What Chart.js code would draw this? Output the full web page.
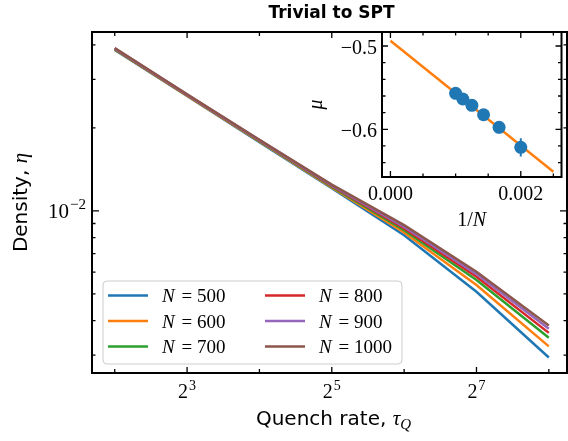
<!DOCTYPE html>
<html>
<head>
<meta charset="utf-8">
<script src="https://cdn.jsdelivr.net/npm/chart.js@4.4.0/dist/chart.umd.min.js"></script>
<style>
  body { margin: 0; background: #fff; }
  #wrap { position: relative; width: 568px; height: 441px; }
  #wrap canvas { position: absolute; left: 0; top: 0; }
</style>
</head>
<body>
<div id="wrap">
  <canvas id="main" width="568" height="441"></canvas>
  <canvas id="inset" width="568" height="441"></canvas>
</div>
<script>
// quench rates and the defect density for each chain length
const tauQ = [4, 8, 16, 32, 64, 128, 256]
const sizesN = [500, 600, 700, 800, 900, 1000]
const density500 = [0.03838, 0.02610, 0.01776, 0.01208, 0.008165, 0.005087, 0.002938]
const density600 = [0.03847, 0.02619, 0.01784, 0.01216, 0.008351, 0.005380, 0.003226]
const density700 = [0.03860, 0.02626, 0.01792, 0.01224, 0.008514, 0.005610, 0.003466]
const density800 = [0.03873, 0.02634, 0.01799, 0.01232, 0.008635, 0.005766, 0.003610]
const density900 = [0.03886, 0.02641, 0.01805, 0.01238, 0.008749, 0.005898, 0.003733]
const density1000 = [0.03899, 0.02648, 0.01811, 0.01245, 0.008876, 0.006012, 0.003837]
const densities = [density500, density600, density700, density800, density900, density1000]
const colors = ['#1f77b4', '#ff7f0e', '#2ca02c', '#d62728', '#9467bd', '#8c564b']

// tick positions (powers of 2 on x, log ticks on y)
const xTickPowers = [2, 3, 4, 5, 6, 7, 8]
const xLabelPowers = [3, 5, 7]
const yMajorTicks = [0.01]
const yMinorTicks = [0.003, 0.004, 0.005, 0.006, 0.007, 0.008, 0.009, 0.02, 0.03, 0.04]

// inset: exponent mu against 1/N with a straight fit
const invN = [0.001, 0.001111, 0.00125, 0.001429, 0.001667, 0.002]
const muValues = [-0.5568, -0.5636, -0.5712, -0.5825, -0.5976, -0.6216]
const muErrors = [0.004, 0.004, 0.005, 0.005, 0.007, 0.011]
const fitInvN = [0, 0.0025]
const fitMu = [-0.4936, -0.6509]
const insetXMajor = [0, 0.002]
const insetXMinor = [0.0005, 0.001, 0.0015, 0.0025]
const insetYMajor = [-0.5, -0.6]
const insetYMinor = [-0.52, -0.54, -0.56, -0.58, -0.62, -0.64]

const SERIF = '"Liberation Serif", "DejaVu Serif", serif'
const SANS = '"DejaVu Sans", sans-serif'

function drawPow (ctx, base, exp, x, y, size, align) {
  ctx.textAlign = 'left'
  ctx.textBaseline = 'alphabetic'
  ctx.font = size + 'px ' + SERIF
  var wb = ctx.measureText(base).width
  var small = Math.round(size * 0.7)
  ctx.font = small + 'px ' + SERIF
  var we = ctx.measureText(exp).width
  var x0 = align === 'right' ? x - wb - we - 1 : x - (wb + we + 1) / 2
  ctx.font = size + 'px ' + SERIF
  ctx.fillText(base, x0, y)
  ctx.font = small + 'px ' + SERIF
  ctx.fillText(exp, x0 + wb + 1, y - size * 0.42)
}

function frameAndTicks (ctx, a, xs, ys) {
  ctx.save()
  ctx.strokeStyle = '#000'
  ctx.lineWidth = 1.3
  ctx.beginPath()
  xs.forEach(function (t) {
    ctx.moveTo(t.px, a.bottom); ctx.lineTo(t.px, a.bottom - t.len)
    ctx.moveTo(t.px, a.top); ctx.lineTo(t.px, a.top + t.len)
  })
  ys.forEach(function (t) {
    ctx.moveTo(a.left, t.px); ctx.lineTo(a.left + t.len, t.px)
    ctx.moveTo(a.right, t.px); ctx.lineTo(a.right - t.len, t.px)
  })
  ctx.stroke()
  ctx.lineWidth = 2
  ctx.strokeRect(a.left, a.top, a.right - a.left, a.bottom - a.top)
  ctx.restore()
}

const mainDecor = {
  id: 'mainDecor',
  beforeDraw (chart) {
    var ctx = chart.ctx
    ctx.save()
    ctx.fillStyle = '#fff'
    ctx.fillRect(0, 0, chart.width, chart.height)
    ctx.restore()
  },
  afterDatasetsDraw (chart) {
    var ctx = chart.ctx
    var a = chart.chartArea
    var x = chart.scales.x
    var y = chart.scales.y

    // legend, two columns
    ctx.save()
    var bx = 103, by = 281, bw = 299, bh = 83
    ctx.beginPath()
    ctx.roundRect(bx, by, bw, bh, 4)
    ctx.fillStyle = 'rgba(255,255,255,0.8)'
    ctx.fill()
    ctx.strokeStyle = '#cccccc'
    ctx.lineWidth = 1
    ctx.stroke()
    sizesN.forEach(function (n, i) {
      var col = Math.floor(i / 3)
      var row = i % 3
      var hx = col === 0 ? 108 : 265
      var ry = 295.5 + row * 25.5
      ctx.strokeStyle = colors[i]
      ctx.lineWidth = 2.5
      ctx.beginPath()
      ctx.moveTo(hx, ry); ctx.lineTo(hx + 40, ry)
      ctx.stroke()
      ctx.fillStyle = '#000'
      ctx.textAlign = 'left'
      ctx.textBaseline = 'alphabetic'
      ctx.font = 'italic 19px ' + SERIF
      ctx.fillText('N', hx + 54, ry + 6.5)
      var wN = ctx.measureText('N').width
      ctx.font = '19px ' + SERIF
      ctx.fillText(' = ' + n, hx + 54 + wN + 2, ry + 6.5)
    })
    ctx.restore()

    var xs = xTickPowers.map(function (p) {
      return { px: x.getPixelForValue(Math.pow(2, p)), len: xLabelPowers.indexOf(p) >= 0 ? 6 : 4 }
    })
    var ys = yMajorTicks.map(function (v) { return { px: y.getPixelForValue(v), len: 7 } })
      .concat(yMinorTicks.map(function (v) { return { px: y.getPixelForValue(v), len: 3.5 } }))
    frameAndTicks(ctx, a, xs, ys)

    ctx.save()
    ctx.fillStyle = '#000'
    xLabelPowers.forEach(function (p) {
      drawPow(ctx, '2', String(p), x.getPixelForValue(Math.pow(2, p)), 398, 20, 'center')
    })
    drawPow(ctx, '10', '\u22122', a.left - 6, y.getPixelForValue(0.01) + 7, 21, 'right')

    // axis titles
    ctx.textBaseline = 'alphabetic'
    ctx.font = '20px ' + SANS
    var s1 = 'Quench rate, '
    var w1 = ctx.measureText(s1).width
    ctx.font = 'italic 21px ' + SERIF
    var wt = ctx.measureText('\u03c4').width
    ctx.font = 'italic 15px ' + SERIF
    var wq = ctx.measureText('Q').width
    var cx = (a.left + a.right) / 2 + 4
    var sx = cx - (w1 + wt + wq) / 2
    ctx.textAlign = 'left'
    ctx.font = '20px ' + SANS
    ctx.fillText(s1, sx, 425)
    ctx.font = 'italic 21px ' + SERIF
    ctx.fillText('\u03c4', sx + w1, 425)
    ctx.font = 'italic 15px ' + SERIF
    ctx.fillText('Q', sx + w1 + wt, 429)

    ctx.translate(27, (a.top + a.bottom) / 2)
    ctx.rotate(-Math.PI / 2)
    ctx.font = '20px ' + SANS
    var s2 = 'Density, '
    var w2 = ctx.measureText(s2).width
    ctx.font = 'italic 21px ' + SERIF
    var we = ctx.measureText('\u03b7').width
    ctx.font = '20px ' + SANS
    ctx.fillText(s2, -(w2 + we) / 2, 0)
    ctx.font = 'italic 21px ' + SERIF
    ctx.fillText('\u03b7', -(w2 + we) / 2 + w2, 0)
    ctx.restore()

    ctx.save()
    ctx.fillStyle = '#000'
    ctx.font = 'bold 17px ' + SANS
    ctx.textAlign = 'center'
    ctx.textBaseline = 'alphabetic'
    ctx.fillText('Trivial to SPT', (a.left + a.right) / 2 + 2, 18)
    ctx.restore()
  }
}

new Chart(document.getElementById('main'), {
  type: 'line',
  data: {
    datasets: densities.map(function (d, i) {
      return {
        label: 'N = ' + sizesN[i],
        data: tauQ.map(function (t, j) { return { x: t, y: d[j] } }),
        borderColor: colors[i],
        borderWidth: 2.5,
        pointRadius: 0,
        tension: 0,
        fill: false,
        order: densities.length - i
      }
    })
  },
  options: {
    responsive: false,
    animation: false,
    devicePixelRatio: 1,
    layout: { padding: { left: 92, top: 32, right: 1, bottom: 68 } },
    plugins: { legend: { display: false }, tooltip: { enabled: false } },
    scales: {
      x: { type: 'logarithmic', min: 3.217, max: 304.7, display: false },
      y: { type: 'logarithmic', min: 0.002582, max: 0.04454, display: false }
    }
  },
  plugins: [mainDecor]
})

const insetDecor = {
  id: 'insetDecor',
  beforeDatasetsDraw (chart) {
    var a = chart.chartArea
    var ctx = chart.ctx
    ctx.save()
    ctx.fillStyle = '#fff'
    ctx.fillRect(a.left, a.top, a.right - a.left, a.bottom - a.top)
    ctx.restore()
  },
  afterDatasetDraw (chart, args) {
    if (args.index !== 0) return
    // error bars sit above the fit line, below the markers
    var ctx = chart.ctx
    var x = chart.scales.x
    var y = chart.scales.y
    ctx.save()
    ctx.strokeStyle = colors[0]
    ctx.lineWidth = 2
    ctx.beginPath()
    invN.forEach(function (v, i) {
      var px = x.getPixelForValue(v)
      ctx.moveTo(px, y.getPixelForValue(muValues[i] - muErrors[i]))
      ctx.lineTo(px, y.getPixelForValue(muValues[i] + muErrors[i]))
    })
    ctx.stroke()
    ctx.restore()
  },
  afterDatasetsDraw (chart) {
    var ctx = chart.ctx
    var a = chart.chartArea
    var x = chart.scales.x
    var y = chart.scales.y
    var xs = insetXMajor.map(function (v) { return { px: x.getPixelForValue(v), len: 6 } })
      .concat(insetXMinor.map(function (v) { return { px: x.getPixelForValue(v), len: 3.5 } }))
    var ys = insetYMajor.map(function (v) { return { px: y.getPixelForValue(v), len: 6 } })
      .concat(insetYMinor.map(function (v) { return { px: y.getPixelForValue(v), len: 3.5 } }))
    frameAndTicks(ctx, a, xs, ys)

    ctx.save()
    ctx.fillStyle = '#000'
    ctx.font = '20px ' + SERIF
    ctx.textBaseline = 'alphabetic'
    ctx.textAlign = 'right'
    insetYMajor.forEach(function (v) {
      ctx.fillText('\u2212' + v.toFixed(1).replace('-', ''), a.left - 5, y.getPixelForValue(v) + 8)
    })
    ctx.textAlign = 'center'
    insetXMajor.forEach(function (v) {
      ctx.fillText(v.toFixed(3), x.getPixelForValue(v), 200)
    })
    ctx.font = 'italic 20px ' + SERIF
    var w1 = ctx.measureText('1/').width
    var wn = ctx.measureText('N').width
    ctx.textAlign = 'left'
    var sx = (a.left + a.right) / 2 - (w1 + wn) / 2
    ctx.font = '20px ' + SERIF
    ctx.fillText('1/', sx, 226)
    ctx.font = 'italic 20px ' + SERIF
    ctx.fillText('N', sx + w1, 226)

    ctx.translate(322, (a.top + a.bottom) / 2)
    ctx.rotate(-Math.PI / 2)
    ctx.textAlign = 'center'
    ctx.fillText('\u03bc', 0, 0)
    ctx.restore()
  }
}

new Chart(document.getElementById('inset'), {
  type: 'scatter',
  data: {
    datasets: [
      {
        data: fitInvN.map(function (v, i) { return { x: v, y: fitMu[i] } }),
        showLine: true,
        borderColor: colors[1],
        borderWidth: 2.5,
        pointRadius: 0,
        order: 1
      },
      {
        data: invN.map(function (v, i) { return { x: v, y: muValues[i] } }),
        backgroundColor: colors[0],
        borderWidth: 0,
        pointRadius: 6.5,
        order: 0
      }
    ]
  },
  options: {
    responsive: false,
    animation: false,
    devicePixelRatio: 1,
    layout: { padding: { left: 382, top: 32, right: 1, bottom: 264 } },
    plugins: { legend: { display: false }, tooltip: { enabled: false } },
    scales: {
      x: { type: 'linear', min: -0.0001296, max: 0.002625, display: false },
      y: { type: 'linear', min: -0.65726, max: -0.48319, display: false }
    }
  },
  plugins: [insetDecor]
})
</script>
</body>
</html>
